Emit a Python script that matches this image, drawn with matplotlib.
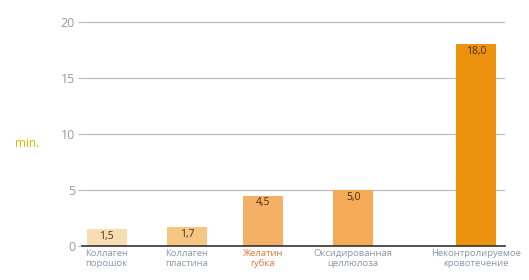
import matplotlib
matplotlib.use("Agg")
import matplotlib.pyplot as plt

# data
categories = ["Коллаген\nпорошок", "Коллаген\nпластина", "Желатин\nгубка",
              "Оксидированная\nцеллюлоза", "Неконтролируемое\nкровотечение"]
values = [1.5, 1.7, 4.5, 5.0, 18.0]
value_labels = ["1,5", "1,7", "4,5", "5,0", "18,0"]
yticks = [0, 5, 10, 15, 20]

# layout / style
xpos = [0, 1, 1.95, 3.08, 4.62]
colors = ["#F8DDB2", "#F6C685", "#F4B064", "#F4AA56", "#EC920F"]
label_colors = ["#8a97a8", "#8a97a8", "#E8743A", "#8a97a8", "#8a97a8"]

plt.rcParams['font.family'] = ['Open Sans', 'DejaVu Sans']

fig = plt.figure(figsize=(5.29, 2.80), dpi=100)
ax = fig.add_axes([0.155, 0.121, 0.80, 0.8125])

ax.bar(xpos, values, width=0.5, color=colors, zorder=3)
for x, v, t in zip(xpos, values, value_labels):
    ax.text(x, v - 0.15, t, ha='center', va='top', fontsize=7.5,
            color='#4a3010', zorder=4)

ax.set_xlim(-0.31, 4.98)
ax.set_ylim(0, 20.3)
ax.set_yticks(yticks)
ax.set_yticklabels([str(t) for t in yticks], fontsize=9, color='#9a9a9a')
ax.tick_params(axis='y', length=3, color='#bbbbbb', pad=2)
ax.grid(axis='y', color='#bdbdbd', linewidth=0.9, zorder=0)

ax.set_xticks(xpos)
ax.set_xticklabels(categories, fontsize=6.8, linespacing=1.1)
for lbl, c in zip(ax.get_xticklabels(), label_colors):
    lbl.set_color(c)
ax.tick_params(axis='x', length=0, pad=2)

for s in ['top', 'right', 'left']:
    ax.spines[s].set_visible(False)
ax.spines['bottom'].set_color('#333333')
ax.spines['bottom'].set_linewidth(1.2)
ax.spines['bottom'].set_zorder(5)

fig.text(0.052, 0.487, "min.", fontsize=8.5, color='#E0B800', ha='center', va='center')

plt.savefig('out.png', dpi=100)
